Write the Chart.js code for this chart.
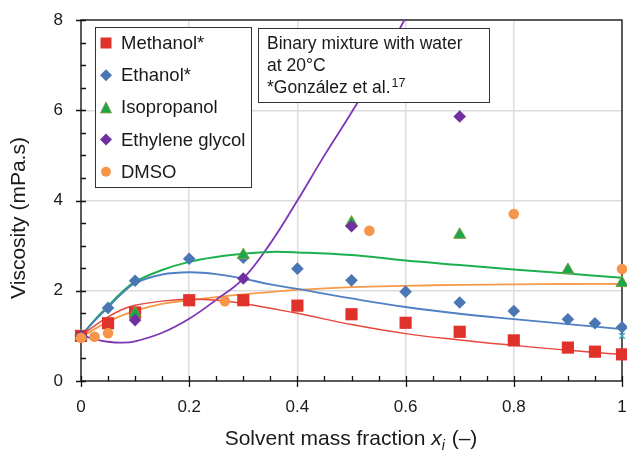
<!DOCTYPE html>
<html>
<head>
<meta charset="utf-8">
<script src="https://cdn.jsdelivr.net/npm/chart.js@4/dist/chart.umd.min.js"></script>
<style>
  html, body { margin: 0; padding: 0; background: #fff; }
  #wrap { width: 627px; height: 450px; }
</style>
</head>
<body>
<div id="wrap"><canvas id="chart" width="627" height="450"></canvas></div>
<script>
// Measured viscosities (mPa.s) of binary mixtures with water at 20 °C
const methanolX = [0, 0.05, 0.1, 0.2, 0.3, 0.4, 0.5, 0.6, 0.7, 0.8, 0.9, 0.95, 1];
const methanolY = [1.0, 1.28, 1.52, 1.79, 1.79, 1.67, 1.48, 1.29, 1.09, 0.90, 0.74, 0.65, 0.59];
const ethanolX = [0, 0.05, 0.1, 0.2, 0.3, 0.4, 0.5, 0.6, 0.7, 0.8, 0.9, 0.95, 1];
const ethanolY = [1.0, 1.62, 2.22, 2.71, 2.73, 2.49, 2.23, 1.98, 1.74, 1.55, 1.37, 1.28, 1.19];
const isopropanolX = [0, 0.1, 0.3, 0.5, 0.7, 0.9, 1];
const isopropanolY = [1.0, 1.50, 2.79, 3.51, 3.24, 2.46, 2.17];
const glycolX = [0, 0.1, 0.3, 0.5, 0.7];
const glycolY = [1.0, 1.35, 2.27, 3.43, 5.86];
const dmsoX = [0, 0.025, 0.05, 0.266, 0.533, 0.8, 1];
const dmsoY = [0.96, 0.98, 1.06, 1.77, 3.33, 3.70, 2.48];
const waterX = [1];
const waterY = [1.0];

// Fitted model curves
const methanolFitX = [0, 0.025, 0.05, 0.075, 0.1, 0.15, 0.2, 0.25, 0.3, 0.35, 0.4, 0.5, 0.6, 0.7, 0.8, 0.9, 1];
const methanolFitY = [1.0, 1.22, 1.42, 1.58, 1.68, 1.77, 1.81, 1.79, 1.72, 1.61, 1.50, 1.25, 1.05, 0.91, 0.79, 0.68, 0.59];
const ethanolFitX = [0, 0.025, 0.05, 0.075, 0.1, 0.15, 0.2, 0.25, 0.3, 0.35, 0.4, 0.5, 0.6, 0.7, 0.8, 0.9, 1];
const ethanolFitY = [1.0, 1.33, 1.63, 1.93, 2.17, 2.36, 2.41, 2.37, 2.27, 2.14, 2.04, 1.83, 1.64, 1.49, 1.37, 1.26, 1.15];
const isopropanolFitX = [0, 0.025, 0.05, 0.075, 0.1, 0.15, 0.2, 0.25, 0.3, 0.35, 0.4, 0.5, 0.6, 0.7, 0.8, 0.9, 1];
const isopropanolFitY = [1.0, 1.35, 1.66, 1.96, 2.20, 2.46, 2.64, 2.75, 2.82, 2.86, 2.85, 2.79, 2.67, 2.57, 2.47, 2.38, 2.29];
const glycolFitX = [0, 0.025, 0.05, 0.075, 0.1, 0.15, 0.2, 0.25, 0.3, 0.35, 0.4, 0.45, 0.5, 0.55, 0.6, 0.65];
const glycolFitY = [1.02, 0.93, 0.87, 0.85, 0.88, 1.07, 1.38, 1.80, 2.27, 3.05, 4.00, 5.00, 5.95, 6.95, 8.05, 9.20];
const dmsoFitX = [0, 0.025, 0.05, 0.075, 0.1, 0.15, 0.2, 0.25, 0.3, 0.35, 0.4, 0.5, 0.6, 0.7, 0.8, 0.9, 1];
const dmsoFitY = [0.96, 1.15, 1.31, 1.45, 1.56, 1.71, 1.79, 1.86, 1.92, 1.97, 2.02, 2.08, 2.11, 2.13, 2.14, 2.15, 2.15];

const xTicks = [0, 0.2, 0.4, 0.6, 0.8, 1];
const yTicks = [0, 2, 4, 6, 8];

const legendLabels = ['Methanol*', 'Ethanol*', 'Isopropanol', 'Ethylene glycol', 'DMSO'];
const noteLines = ['Binary mixture with water', 'at 20\u00B0C', '*Gonz\u00E1lez et al.'];
const noteSup = '17';
const xTitleParts = ['Solvent mass fraction ', 'x', 'i', ' (\u2013)'];
const yTitle = 'Viscosity (mPa.s)';

const FONT = "'Liberation Sans', Arial, Helvetica, sans-serif";
const C = {
  red: '#E0312A', redLine: '#E8473B',
  blue: '#4A77B4', blueLine: '#4F80C3',
  green: '#1AA64A', greenEdge: '#7F9F45', greenLine: '#1CB04E',
  purple: '#7030A0', purpleLine: '#7C37B6',
  orange: '#F7964A', orangeLine: '#F69A4B',
  teal: '#4BACC6'
};

const pts = (xs, ys) => xs.map((x, i) => ({ x: x, y: ys[i] }));

function marker(label, xs, ys, style, radius, bg, border, order) {
  return {
    label: label, data: pts(xs, ys), showLine: false,
    pointStyle: style, pointRadius: radius, pointHoverRadius: radius,
    backgroundColor: bg, borderColor: border || bg, pointBorderWidth: border ? 1 : 0,
    order: order, clip: false
  };
}
function fit(xs, ys, color, width) {
  return {
    label: '', data: pts(xs, ys), showLine: true, type: 'line',
    borderColor: color, borderWidth: width, pointRadius: 0,
    tension: 0.4, fill: false, order: 20, clip: 1
  };
}

function drawSymbol(ctx, style, x, y, s, fillC, strokeC) {
  ctx.save();
  ctx.fillStyle = fillC;
  ctx.beginPath();
  if (style === 'rect') {
    ctx.rect(x - s / 2, y - s / 2, s, s);
  } else if (style === 'diamond') {
    ctx.moveTo(x, y - s / 2); ctx.lineTo(x + s / 2, y); ctx.lineTo(x, y + s / 2); ctx.lineTo(x - s / 2, y);
    ctx.closePath();
  } else if (style === 'triangle') {
    ctx.moveTo(x, y - s / 2); ctx.lineTo(x + s / 2, y + s / 2); ctx.lineTo(x - s / 2, y + s / 2);
    ctx.closePath();
  } else {
    ctx.arc(x, y, s / 2, 0, Math.PI * 2);
  }
  ctx.fill();
  if (strokeC) { ctx.strokeStyle = strokeC; ctx.lineWidth = 1; ctx.stroke(); }
  ctx.restore();
}

// Frame, axis ticks and axis titles
const framePlugin = {
  id: 'frame',
  beforeDatasetsDraw(chart) {
    const { ctx, chartArea: a, scales } = chart;
    const xs = scales.x, ys = scales.y;
    ctx.save();
    ctx.strokeStyle = '#111';
    ctx.lineWidth = 1.3;
    ctx.strokeRect(a.left, a.top, a.right - a.left, a.bottom - a.top);
    ctx.beginPath();
    for (let k = 0; k <= 20; k++) {
      const v = k * 0.05;
      const px = Math.round(xs.getPixelForValue(v)) + 0.5;
      const major = k % 4 === 0;
      ctx.moveTo(px, a.bottom - 5);
      ctx.lineTo(px, a.bottom + (major ? 6 : 0));
    }
    for (let k = 0; k <= 16; k++) {
      const v = k * 0.5;
      const py = Math.round(ys.getPixelForValue(v)) + 0.5;
      const major = k % 4 === 0;
      ctx.moveTo(a.left - (major ? 5 : 0), py);
      ctx.lineTo(a.left + 5, py);
    }
    ctx.stroke();
    ctx.restore();
  },
  afterDatasetsDraw(chart) {
    const { ctx } = chart;
    ctx.save();
    // legend box
    ctx.fillStyle = '#fff';
    ctx.fillRect(95, 27, 156, 160);
    ctx.strokeStyle = '#333';
    ctx.lineWidth = 1;
    ctx.strokeRect(95.5, 27.5, 156, 160);
    const syms = [
      ['rect', C.red, null, 11], ['diamond', C.blue, null, 12], ['triangle', C.green, C.greenEdge, 11],
      ['diamond', C.purple, null, 12], ['circle', C.orange, null, 10]
    ];
    ctx.font = '18.5px ' + FONT;
    ctx.textBaseline = 'middle';
    legendLabels.forEach((t, i) => {
      const yy = 43 + i * 32.2;
      drawSymbol(ctx, syms[i][0], 106, yy, syms[i][3], syms[i][1], syms[i][2]);
      ctx.fillStyle = '#1a1a1a';
      ctx.fillText(t, 121, yy + 1);
    });
    // note box
    ctx.fillStyle = '#fff';
    ctx.fillRect(258, 28, 231, 74);
    ctx.strokeStyle = '#333';
    ctx.strokeRect(258.5, 28.5, 231, 74);
    ctx.fillStyle = '#1a1a1a';
    ctx.textBaseline = 'alphabetic';
    ctx.font = '17.5px ' + FONT;
    noteLines.forEach((t, i) => ctx.fillText(t, 267, 49 + i * 22));
    const w3 = ctx.measureText(noteLines[2]).width;
    ctx.font = '12.5px ' + FONT;
    ctx.fillText(noteSup, 267 + w3 + 1, 87);

    // x axis title
    const big = '21px ' + FONT, it = 'italic 21px ' + FONT, sub = 'italic 14px ' + FONT;
    ctx.font = big; const w0 = ctx.measureText(xTitleParts[0]).width;
    ctx.font = it; const w1 = ctx.measureText(xTitleParts[1]).width;
    ctx.font = sub; const w2 = ctx.measureText(xTitleParts[2]).width;
    ctx.font = big; const w4 = ctx.measureText(xTitleParts[3]).width;
    let xx = 351 - (w0 + w1 + w2 + 1 + w4) / 2;
    const by = 445;
    ctx.font = big; ctx.fillText(xTitleParts[0], xx, by); xx += w0;
    ctx.font = it; ctx.fillText(xTitleParts[1], xx, by); xx += w1;
    ctx.font = sub; ctx.fillText(xTitleParts[2], xx, by + 5); xx += w2 + 1;
    ctx.font = big; ctx.fillText(xTitleParts[3], xx, by);

    // y axis title
    ctx.translate(25, 218);
    ctx.rotate(-Math.PI / 2);
    ctx.textAlign = 'center';
    ctx.font = big;
    ctx.fillText(yTitle, 0, 0);
    ctx.restore();
  }
};

Chart.defaults.font.family = FONT;
Chart.defaults.color = '#1a1a1a';

function noPad(s) {
  s.paddingLeft = 0; s.paddingRight = 0; s.paddingTop = 0; s.paddingBottom = 0;
}

new Chart(document.getElementById('chart'), {
  type: 'scatter',
  data: {
    datasets: [
      marker(legendLabels[0], methanolX, methanolY, 'rect', 8.6, C.red, null, 5),
      marker(legendLabels[1], ethanolX, ethanolY, 'rectRot', 6.3, C.blue, null, 4),
      marker(legendLabels[2], isopropanolX, isopropanolY, 'triangle', 7, C.green, C.greenEdge, 3),
      marker(legendLabels[3], glycolX, glycolY, 'rectRot', 6.3, C.purple, null, 2),
      marker(legendLabels[4], dmsoX, dmsoY, 'circle', 5.3, C.orange, null, 1),
      Object.assign(marker('', waterX, waterY, 'crossRot', 4, C.teal, C.teal, 0), { pointBorderWidth: 1.5 }),
      fit(methanolFitX, methanolFitY, C.redLine, 1.5),
      fit(ethanolFitX, ethanolFitY, C.blueLine, 1.8),
      fit(isopropanolFitX, isopropanolFitY, C.greenLine, 2),
      fit(glycolFitX, glycolFitY, C.purpleLine, 1.8),
      fit(dmsoFitX, dmsoFitY, C.orangeLine, 1.8)
    ]
  },
  options: {
    responsive: false,
    animation: false,
    layout: { autoPadding: false, padding: { top: 20, right: 5, left: 0, bottom: 0 } },
    plugins: { legend: { display: false }, tooltip: { enabled: false } },
    scales: {
      x: {
        type: 'linear', min: 0, max: 1,
        afterFit: s => { s.height = 69; noPad(s); },
        afterBuildTicks: s => { s.ticks = xTicks.map(v => ({ value: v })); },
        ticks: { font: { size: 17 }, padding: 16, color: '#1a1a1a',
                 callback: v => String(Math.round(v * 10) / 10), maxRotation: 0 },
        grid: { color: '#dcdcdc', lineWidth: 1.5, drawTicks: false },
        border: { display: false }
      },
      y: {
        type: 'linear', min: 0, max: 8,
        afterFit: s => { s.width = 81; noPad(s); },
        afterBuildTicks: s => { s.ticks = yTicks.map(v => ({ value: v })); },
        ticks: { font: { size: 17 }, padding: 18, color: '#1a1a1a' },
        grid: { color: '#dcdcdc', lineWidth: 1.5, drawTicks: false },
        border: { display: false }
      }
    }
  },
  plugins: [framePlugin]
});
</script>
</body>
</html>
